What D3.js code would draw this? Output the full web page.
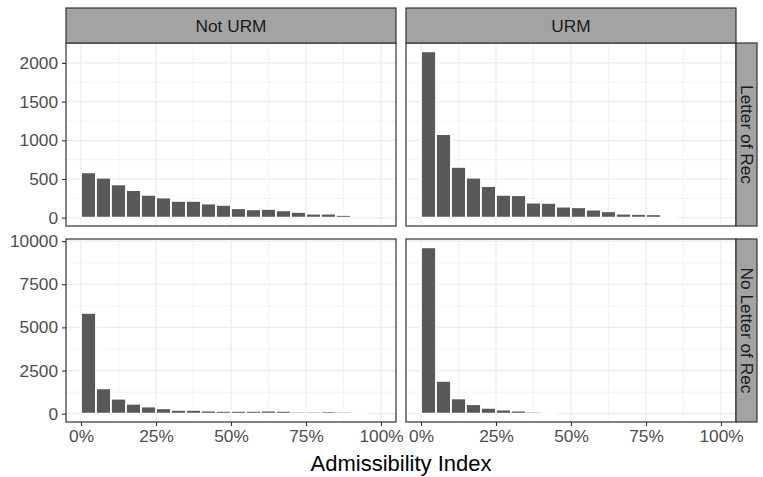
<!DOCTYPE html>
<html><head><meta charset="utf-8">
<script src="https://cdn.jsdelivr.net/npm/d3@7"></script>
<style>
body{margin:0;background:#fff}
svg{display:block}
text{font-family:"Liberation Sans",Arial,Helvetica,sans-serif}
</style>
</head><body>
<svg id="chart" width="763" height="477"></svg>
<script>
// ---- data ----
const colFacets = ["Not URM", "URM"];
const rowFacets = ["Letter of Rec", "No Letter of Rec"];
const binStarts = [0,0.05,0.10,0.15,0.20,0.25,0.30,0.35,0.40,0.45,0.50,0.55,0.60,0.65,0.70,0.75,0.80,0.85,0.90,0.95];
const binWidth = 0.05;
const letterNotURM   = [586,517,430,356,295,261,217,217,183,165,122,108,113,95,74,52,52,35,0,0];
const letterURM      = [2150,1080,656,517,408,295,291,195,191,143,135,104,83,52,48,44,22,0,0,0];
const noLetterNotURM = [5840,1470,870,575,415,315,220,220,180,162,162,162,178,162,120,120,138,120,41,0];
const noLetterURM    = [9640,1900,885,550,338,238,178,120,41,0,0,0,0,0,0,0,0,0,0,0];
const xTicks = [0, 0.25, 0.5, 0.75, 1];
const xMinor = [0.125, 0.375, 0.625, 0.875];
const yTicksTop = [0, 500, 1000, 1500, 2000];
const yMinorTop = [250, 750, 1250, 1750];
const yTicksBottom = [0, 2500, 5000, 7500, 10000];
const yMinorBottom = [1250, 3750, 6250, 8750];
const xTitle = "Admissibility Index";

const panelValues = [[letterNotURM, letterURM],[noLetterNotURM, noLetterURM]];
const rowTicks = [yTicksTop, yTicksBottom];
const rowMinor = [yMinorTop, yMinorBottom];

// ---- layout ----
const svg = d3.select("#chart");
const colX = [66, 406], panelW = 330;
const rowY = [43, 239], panelH = 183;
const stripTop = 8, stripH = 35;
const rStripX = 736, rStripW = 21;
const border = "#333333", grid = "#EBEBEB", stripFill = "#A3A3A3";

const fs = 17.3;

for (let r = 0; r < 2; r++) {
  const rowMax = d3.max(panelValues[r].flat());
  const y = d3.scaleLinear()
    .domain([-0.05 * rowMax, 1.05 * rowMax])
    .range([rowY[r] + panelH, rowY[r]]);
  for (let c = 0; c < 2; c++) {
    const x = d3.scaleLinear().domain([-0.05, 1.05]).range([colX[c], colX[c] + panelW]);
    const g = svg.append("g");
    g.append("rect").attr("x", colX[c]).attr("y", rowY[r]).attr("width", panelW).attr("height", panelH).attr("fill", "#fff");
    // minor grid
    g.selectAll(".vmin").data(xMinor).join("line")
      .attr("x1", d => x(d)).attr("x2", d => x(d)).attr("y1", rowY[r]).attr("y2", rowY[r] + panelH)
      .attr("stroke", grid).attr("stroke-width", 0.6);
    g.selectAll(".hmin").data(rowMinor[r]).join("line")
      .attr("y1", d => y(d)).attr("y2", d => y(d)).attr("x1", colX[c]).attr("x2", colX[c] + panelW)
      .attr("stroke", grid).attr("stroke-width", 0.6);
    // major grid
    g.selectAll(".vmaj").data(xTicks).join("line")
      .attr("x1", d => x(d)).attr("x2", d => x(d)).attr("y1", rowY[r]).attr("y2", rowY[r] + panelH)
      .attr("stroke", grid).attr("stroke-width", 1.2);
    g.selectAll(".hmaj").data(rowTicks[r]).join("line")
      .attr("y1", d => y(d)).attr("y2", d => y(d)).attr("x1", colX[c]).attr("x2", colX[c] + panelW)
      .attr("stroke", grid).attr("stroke-width", 1.2);
    // bars
    const vals = panelValues[r][c];
    g.selectAll(".bar").data(binStarts.map((b, i) => ({b, v: vals[i]})).filter(d => d.v > 0)).join("rect")
      .attr("x", d => x(d.b)).attr("width", d => x(d.b + binWidth) - x(d.b))
      .attr("y", d => y(d.v)).attr("height", d => y(0) - y(d.v))
      .attr("fill", "#595959").attr("stroke", "#fff").attr("stroke-width", 1.8);
    // border
    g.append("rect").attr("x", colX[c]).attr("y", rowY[r]).attr("width", panelW).attr("height", panelH)
      .attr("fill", "none").attr("stroke", border).attr("stroke-width", 1.2);

    // x axis on bottom row
    if (r === 1) {
      const ax = svg.append("g").attr("transform", `translate(0,${rowY[r] + panelH})`)
        .call(d3.axisBottom(x).tickValues(xTicks).tickFormat(d3.format(".0%")).tickSize(4).tickPadding(4));
      ax.select(".domain").remove();
      ax.selectAll(".tick line").attr("stroke", border).attr("stroke-width", 1.1);
      ax.selectAll(".tick text").attr("fill", "#4D4D4D").style("font-size", fs + "px")
        .style("font-family", '"Liberation Sans",Arial,sans-serif');
    }
    // y axis on left column
    if (c === 0) {
      const ay = svg.append("g").attr("transform", `translate(${colX[c]},0)`)
        .call(d3.axisLeft(y).tickValues(rowTicks[r]).tickFormat(d3.format("d")).tickSize(4).tickPadding(4));
      ay.select(".domain").remove();
      ay.selectAll(".tick line").attr("stroke", border).attr("stroke-width", 1.1);
      ay.selectAll(".tick text").attr("fill", "#4D4D4D").style("font-size", fs + "px")
        .style("font-family", '"Liberation Sans",Arial,sans-serif');
    }
  }
  // right strip
  svg.append("rect").attr("x", rStripX).attr("y", rowY[r]).attr("width", rStripW).attr("height", panelH)
    .attr("fill", stripFill).attr("stroke", border).attr("stroke-width", 1.2);
  svg.append("text")
    .attr("transform", `translate(${rStripX + rStripW / 2},${rowY[r] + panelH / 2}) rotate(90)`)
    .attr("text-anchor", "middle").attr("dominant-baseline", "central")
    .attr("fill", "#1A1A1A").style("font-size", fs + "px").text(rowFacets[r]);
}

// top strips
for (let c = 0; c < 2; c++) {
  svg.append("rect").attr("x", colX[c]).attr("y", stripTop).attr("width", panelW).attr("height", stripH)
    .attr("fill", stripFill).attr("stroke", border).attr("stroke-width", 1.2);
  svg.append("text").attr("x", colX[c] + panelW / 2).attr("y", stripTop + stripH / 2)
    .attr("text-anchor", "middle").attr("dominant-baseline", "central")
    .attr("fill", "#1A1A1A").style("font-size", fs + "px").text(colFacets[c]);
}

// axis title
svg.append("text").attr("x", (colX[0] + colX[1] + panelW) / 2).attr("y", 471)
  .attr("text-anchor", "middle").attr("fill", "#000").style("font-size", "22px").text(xTitle);
</script>
</body></html>
